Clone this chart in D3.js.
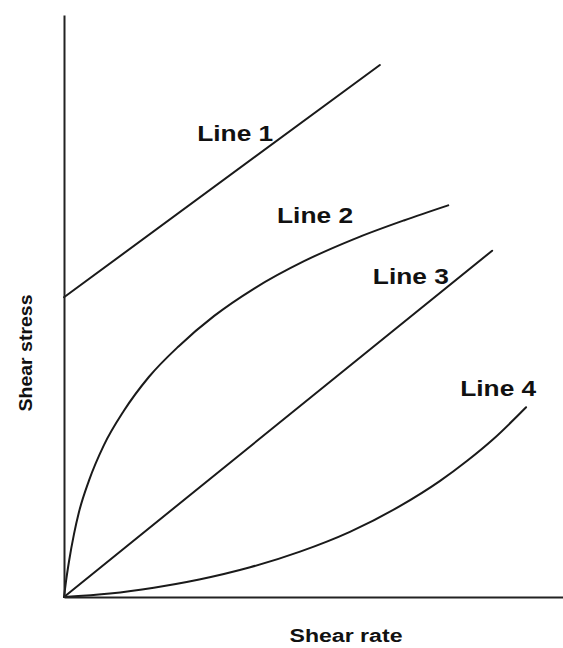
<!DOCTYPE html>
<html>
<head>
<meta charset="utf-8">
<script src="https://cdn.jsdelivr.net/npm/d3@7"></script>
<style>
  html, body { margin: 0; padding: 0; background: #fff; }
  svg { display: block; }
  text { font-family: "Liberation Sans", Arial, sans-serif; font-weight: bold; fill: #111; }
</style>
</head>
<body>
<svg id="chart" width="563" height="648"></svg>
<script>
// Shear stress vs shear rate for four flow behaviours (arbitrary units)
const seriesNames = ["Line 1", "Line 2", "Line 3", "Line 4"];

// Line 1: Bingham plastic (yield stress, then linear)
const line1Rate   = [0, 6.33];
const line1Stress = [5.15, 9.14];

// Line 2: pseudoplastic (shear thinning)
const line2Rate   = [0, 0.04, 0.10, 0.20, 0.30, 0.50, 0.80, 1.20, 1.70, 2.30, 3.01, 3.81, 4.81, 5.81, 6.81, 7.70];
const line2Stress = [0, 0.27, 0.61, 1.08, 1.46, 2.00, 2.61, 3.20, 3.78, 4.31, 4.83, 5.30, 5.77, 6.15, 6.47, 6.73];

// Line 3: Newtonian
const line3Rate   = [0, 8.58];
const line3Stress = [0, 5.95];

// Line 4: dilatant (shear thickening)
const line4Rate   = [0, 0.92, 1.80, 2.71, 3.73, 4.73, 5.73, 6.73, 7.53, 8.08, 8.60, 9.26];
const line4Stress = [0, 0.06, 0.16, 0.30, 0.51, 0.78, 1.12, 1.56, 1.99, 2.34, 2.71, 3.26];

const xTitle = "Shear rate";
const yTitle = "Shear stress";

const rates    = [line1Rate, line2Rate, line3Rate, line4Rate];
const stresses = [line1Stress, line2Stress, line3Stress, line4Stress];

// Layout
const svg = d3.select("#chart");
const x = d3.scaleLinear().domain([0, 10]).range([64, 563]);
const y = d3.scaleLinear().domain([0, 10]).range([597, 15]);

// Label anchors (left edge / baseline) in chart units
const labelAnchor = [[2.67, 7.84], [4.27, 6.43], [6.19, 5.38], [7.94, 3.45]];

const line = d3.line()
  .x(d => x(d[0]))
  .y(d => y(d[1]))
  .curve(d3.curveMonotoneX);

// Curves
seriesNames.forEach((name, i) => {
  const pts = rates[i].map((r, j) => [r, stresses[i][j]]);
  svg.append("path")
    .datum(pts)
    .attr("d", line)
    .attr("fill", "none")
    .attr("stroke", "#1a1a1a")
    .attr("stroke-width", 2)
    .attr("stroke-linecap", "round");
});

// Axes without ticks
const xAxis = d3.axisBottom(x).tickValues([]).tickSizeOuter(0);
const yAxis = d3.axisLeft(y).tickValues([]).tickSizeOuter(0);

svg.append("g")
  .attr("transform", `translate(0,${y(0)})`)
  .call(xAxis)
  .call(g => g.select(".domain").attr("stroke", "#222").attr("stroke-width", 2));

svg.append("g")
  .attr("transform", `translate(${x(0)},0)`)
  .call(yAxis)
  .call(g => g.select(".domain").attr("stroke", "#222").attr("stroke-width", 2));

// Series labels
seriesNames.forEach((name, i) => {
  svg.append("text")
    .attr("x", x(labelAnchor[i][0]))
    .attr("y", y(labelAnchor[i][1]))
    .attr("font-size", 22)
    .attr("textLength", 76)
    .attr("lengthAdjust", "spacingAndGlyphs")
    .text(name);
});

// Axis titles
svg.append("text")
  .attr("x", 346)
  .attr("y", 642)
  .attr("text-anchor", "middle")
  .attr("font-size", 18)
  .attr("textLength", 113)
  .attr("lengthAdjust", "spacingAndGlyphs")
  .text(xTitle);

svg.append("text")
  .attr("transform", "translate(32,353) rotate(-90)")
  .attr("text-anchor", "middle")
  .attr("font-size", 19)
  .attr("textLength", 117)
  .attr("lengthAdjust", "spacingAndGlyphs")
  .text(yTitle);
</script>
</body>
</html>
